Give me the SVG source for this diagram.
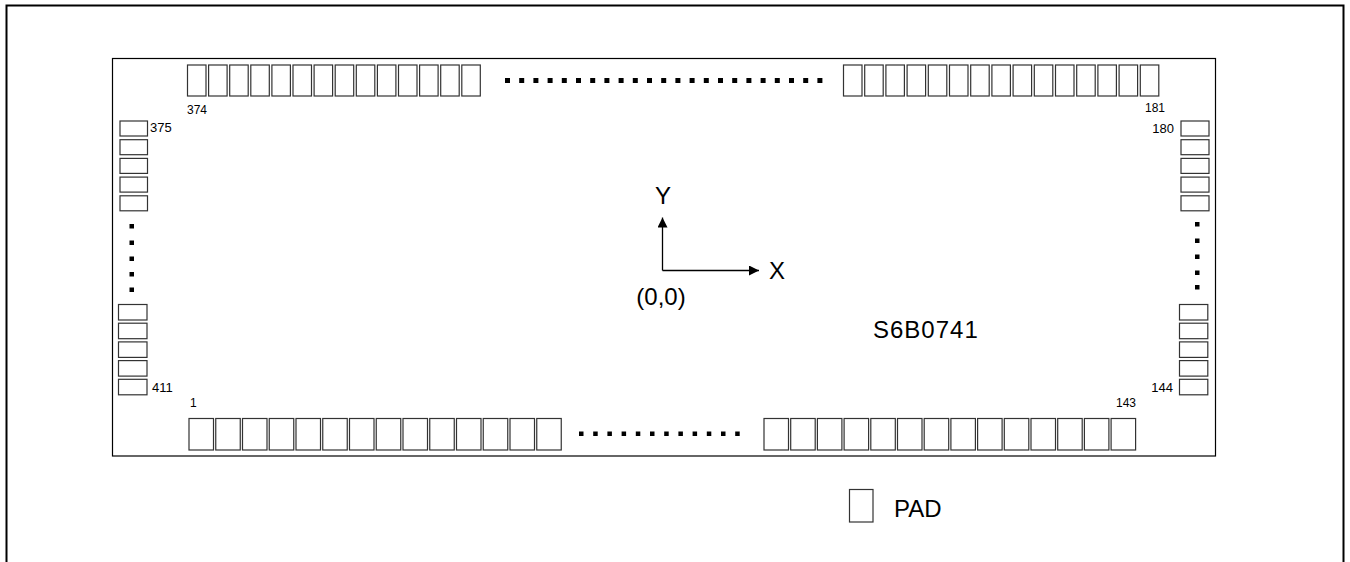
<svg xmlns="http://www.w3.org/2000/svg" width="1350" height="562" viewBox="0 0 1350 562">
<defs>
<style>
.pad{fill:#fff;stroke:#333;stroke-width:1.2}
.dot{fill:#000}
.num{font-family:"Liberation Sans",Arial,sans-serif;fill:#000}
.big{font-family:"Liberation Sans",Arial,sans-serif;font-size:24px;fill:#000}
.ax{stroke:#000;stroke-width:1.3;fill:none}
</style>
<marker id="arr" viewBox="0 0 10 10" refX="10" refY="5" markerWidth="10" markerHeight="10" markerUnits="userSpaceOnUse" orient="auto">
<path d="M0,0 L10,5 L0,10 Z" fill="#000"/>
</marker>
</defs>
<rect width="1350" height="562" fill="#fff"/>
<g id="frame">
<path d="M6.5,562 V5.5 H1343.5 V562" fill="none" stroke="#000" stroke-width="2"/>
</g>
<g id="chip">
<rect x="112.5" y="58.5" width="1103" height="397.5" fill="none" stroke="#000" stroke-width="1.2"/>
</g>
<g id="pads-top-left">
<rect class="pad" x="187.5" y="65" width="18.5" height="31"/>
<rect class="pad" x="208.6" y="65" width="18.5" height="31"/>
<rect class="pad" x="229.7" y="65" width="18.5" height="31"/>
<rect class="pad" x="250.8" y="65" width="18.5" height="31"/>
<rect class="pad" x="271.9" y="65" width="18.5" height="31"/>
<rect class="pad" x="293.0" y="65" width="18.5" height="31"/>
<rect class="pad" x="314.1" y="65" width="18.5" height="31"/>
<rect class="pad" x="335.2" y="65" width="18.5" height="31"/>
<rect class="pad" x="356.3" y="65" width="18.5" height="31"/>
<rect class="pad" x="377.4" y="65" width="18.5" height="31"/>
<rect class="pad" x="398.5" y="65" width="18.5" height="31"/>
<rect class="pad" x="419.6" y="65" width="18.5" height="31"/>
<rect class="pad" x="440.7" y="65" width="18.5" height="31"/>
<rect class="pad" x="461.8" y="65" width="18.5" height="31"/>
</g>
<g id="dots-top">
<rect class="dot" x="505" y="78" width="5" height="5"/>
<rect class="dot" x="519.2" y="78" width="5" height="5"/>
<rect class="dot" x="533.4" y="78" width="5" height="5"/>
<rect class="dot" x="547.6" y="78" width="5" height="5"/>
<rect class="dot" x="561.8" y="78" width="5" height="5"/>
<rect class="dot" x="576" y="78" width="5" height="5"/>
<rect class="dot" x="590.2" y="78" width="5" height="5"/>
<rect class="dot" x="604.4" y="78" width="5" height="5"/>
<rect class="dot" x="618.6" y="78" width="5" height="5"/>
<rect class="dot" x="632.8" y="78" width="5" height="5"/>
<rect class="dot" x="647" y="78" width="5" height="5"/>
<rect class="dot" x="661.2" y="78" width="5" height="5"/>
<rect class="dot" x="675.4" y="78" width="5" height="5"/>
<rect class="dot" x="689.6" y="78" width="5" height="5"/>
<rect class="dot" x="703.8" y="78" width="5" height="5"/>
<rect class="dot" x="718" y="78" width="5" height="5"/>
<rect class="dot" x="732.2" y="78" width="5" height="5"/>
<rect class="dot" x="746.4" y="78" width="5" height="5"/>
<rect class="dot" x="760.6" y="78" width="5" height="5"/>
<rect class="dot" x="774.8" y="78" width="5" height="5"/>
<rect class="dot" x="789" y="78" width="5" height="5"/>
<rect class="dot" x="803.2" y="78" width="5" height="5"/>
<rect class="dot" x="817.4" y="78" width="5" height="5"/>
</g>
<g id="pads-top-right">
<rect class="pad" x="843.5" y="65" width="18.5" height="31"/>
<rect class="pad" x="864.7" y="65" width="18.5" height="31"/>
<rect class="pad" x="885.9" y="65" width="18.5" height="31"/>
<rect class="pad" x="907.1" y="65" width="18.5" height="31"/>
<rect class="pad" x="928.3" y="65" width="18.5" height="31"/>
<rect class="pad" x="949.5" y="65" width="18.5" height="31"/>
<rect class="pad" x="970.7" y="65" width="18.5" height="31"/>
<rect class="pad" x="991.9" y="65" width="18.5" height="31"/>
<rect class="pad" x="1013.1" y="65" width="18.5" height="31"/>
<rect class="pad" x="1034.3" y="65" width="18.5" height="31"/>
<rect class="pad" x="1055.5" y="65" width="18.5" height="31"/>
<rect class="pad" x="1076.7" y="65" width="18.5" height="31"/>
<rect class="pad" x="1097.9" y="65" width="18.5" height="31"/>
<rect class="pad" x="1119.1" y="65" width="18.5" height="31"/>
<rect class="pad" x="1140.3" y="65" width="18.5" height="31"/>
</g>
<g id="pads-left">
<rect class="pad" x="120" y="121" width="27.5" height="15"/>
<rect class="pad" x="120" y="139.7" width="27.5" height="15"/>
<rect class="pad" x="120" y="158.4" width="27.5" height="15"/>
<rect class="pad" x="120" y="177.1" width="27.5" height="15"/>
<rect class="pad" x="120" y="195.8" width="27.5" height="15"/>
<rect class="pad" x="118.5" y="304.5" width="28.5" height="15.5"/>
<rect class="pad" x="118.5" y="323.2" width="28.5" height="15.5"/>
<rect class="pad" x="118.5" y="341.9" width="28.5" height="15.5"/>
<rect class="pad" x="118.5" y="360.6" width="28.5" height="15.5"/>
<rect class="pad" x="118.5" y="379.3" width="28.5" height="15.5"/>
</g>
<g id="dots-left">
<rect class="dot" x="129.5" y="224" width="4.5" height="4.5"/>
<rect class="dot" x="129.5" y="240.5" width="4.5" height="4.5"/>
<rect class="dot" x="129.5" y="256.5" width="4.5" height="4.5"/>
<rect class="dot" x="129.5" y="272" width="4.5" height="4.5"/>
<rect class="dot" x="129.5" y="287.5" width="4.5" height="4.5"/>
</g>
<g id="pads-right">
<rect class="pad" x="1181" y="121" width="28" height="15"/>
<rect class="pad" x="1181" y="139.7" width="28" height="15"/>
<rect class="pad" x="1181" y="158.4" width="28" height="15"/>
<rect class="pad" x="1181" y="177.1" width="28" height="15"/>
<rect class="pad" x="1181" y="195.8" width="28" height="15"/>
<rect class="pad" x="1179.5" y="304.5" width="28.3" height="15.5"/>
<rect class="pad" x="1179.5" y="323.2" width="28.3" height="15.5"/>
<rect class="pad" x="1179.5" y="341.9" width="28.3" height="15.5"/>
<rect class="pad" x="1179.5" y="360.6" width="28.3" height="15.5"/>
<rect class="pad" x="1179.5" y="379.3" width="28.3" height="15.5"/>
</g>
<g id="dots-right">
<rect class="dot" x="1195" y="222" width="4.5" height="4.5"/>
<rect class="dot" x="1195" y="238.5" width="4.5" height="4.5"/>
<rect class="dot" x="1195" y="254.5" width="4.5" height="4.5"/>
<rect class="dot" x="1195" y="270.5" width="4.5" height="4.5"/>
<rect class="dot" x="1195" y="285" width="4.5" height="4.5"/>
</g>
<g id="pads-bottom-left">
<rect class="pad" x="189" y="418.5" width="24.5" height="31.5"/>
<rect class="pad" x="215.75" y="418.5" width="24.5" height="31.5"/>
<rect class="pad" x="242.5" y="418.5" width="24.5" height="31.5"/>
<rect class="pad" x="269.25" y="418.5" width="24.5" height="31.5"/>
<rect class="pad" x="296" y="418.5" width="24.5" height="31.5"/>
<rect class="pad" x="322.75" y="418.5" width="24.5" height="31.5"/>
<rect class="pad" x="349.5" y="418.5" width="24.5" height="31.5"/>
<rect class="pad" x="376.25" y="418.5" width="24.5" height="31.5"/>
<rect class="pad" x="403" y="418.5" width="24.5" height="31.5"/>
<rect class="pad" x="429.75" y="418.5" width="24.5" height="31.5"/>
<rect class="pad" x="456.5" y="418.5" width="24.5" height="31.5"/>
<rect class="pad" x="483.25" y="418.5" width="24.5" height="31.5"/>
<rect class="pad" x="510" y="418.5" width="24.5" height="31.5"/>
<rect class="pad" x="536.75" y="418.5" width="24.5" height="31.5"/>
</g>
<g id="dots-bottom">
<rect class="dot" x="579" y="431.5" width="4.5" height="4.5"/>
<rect class="dot" x="593.2" y="431.5" width="4.5" height="4.5"/>
<rect class="dot" x="607.4" y="431.5" width="4.5" height="4.5"/>
<rect class="dot" x="621.6" y="431.5" width="4.5" height="4.5"/>
<rect class="dot" x="635.8" y="431.5" width="4.5" height="4.5"/>
<rect class="dot" x="650" y="431.5" width="4.5" height="4.5"/>
<rect class="dot" x="664.2" y="431.5" width="4.5" height="4.5"/>
<rect class="dot" x="678.4" y="431.5" width="4.5" height="4.5"/>
<rect class="dot" x="692.6" y="431.5" width="4.5" height="4.5"/>
<rect class="dot" x="706.8" y="431.5" width="4.5" height="4.5"/>
<rect class="dot" x="721" y="431.5" width="4.5" height="4.5"/>
<rect class="dot" x="735.2" y="431.5" width="4.5" height="4.5"/>
</g>
<g id="pads-bottom-right">
<rect class="pad" x="764" y="418.5" width="24.5" height="31.5"/>
<rect class="pad" x="790.7" y="418.5" width="24.5" height="31.5"/>
<rect class="pad" x="817.4" y="418.5" width="24.5" height="31.5"/>
<rect class="pad" x="844.1" y="418.5" width="24.5" height="31.5"/>
<rect class="pad" x="870.8" y="418.5" width="24.5" height="31.5"/>
<rect class="pad" x="897.5" y="418.5" width="24.5" height="31.5"/>
<rect class="pad" x="924.2" y="418.5" width="24.5" height="31.5"/>
<rect class="pad" x="950.9" y="418.5" width="24.5" height="31.5"/>
<rect class="pad" x="977.6" y="418.5" width="24.5" height="31.5"/>
<rect class="pad" x="1004.3" y="418.5" width="24.5" height="31.5"/>
<rect class="pad" x="1031" y="418.5" width="24.5" height="31.5"/>
<rect class="pad" x="1057.7" y="418.5" width="24.5" height="31.5"/>
<rect class="pad" x="1084.4" y="418.5" width="24.5" height="31.5"/>
<rect class="pad" x="1111.1" y="418.5" width="24.5" height="31.5"/>
</g>
<g id="pad-labels">
<text class="num" x="187" y="114" font-size="12">374</text>
<text class="num" x="1165" y="112" font-size="12" text-anchor="end">181</text>
<text class="num" x="150" y="132" font-size="13">375</text>
<text class="num" x="1174" y="133" font-size="13" text-anchor="end">180</text>
<text class="num" x="152" y="392" font-size="13">411</text>
<text class="num" x="1173" y="392" font-size="13" text-anchor="end">144</text>
<text class="num" x="190" y="407" font-size="12">1</text>
<text class="num" x="1136" y="407" font-size="12" text-anchor="end">143</text>
</g>
<g id="connectors">
<line class="ax" x1="662.5" y1="270.5" x2="662.5" y2="217.5" marker-end="url(#arr)"/>
<line class="ax" x1="662.5" y1="270.5" x2="759" y2="270.5" marker-end="url(#arr)"/>
</g>
<g id="axis-labels">
<text class="big" x="663" y="204" text-anchor="middle">Y</text>
<text class="big" x="769" y="279">X</text>
<text class="big" x="661" y="305" text-anchor="middle">(0,0)</text>
</g>
<g id="chip-name">
<text class="big" x="873" y="338" font-size="27" letter-spacing="1">S6B0741</text>
</g>
<g id="legend">
<rect class="pad" x="849.5" y="489.5" width="23.5" height="32.5"/>
<text class="big" x="894" y="517" font-size="23">PAD</text>
</g>
</svg>
